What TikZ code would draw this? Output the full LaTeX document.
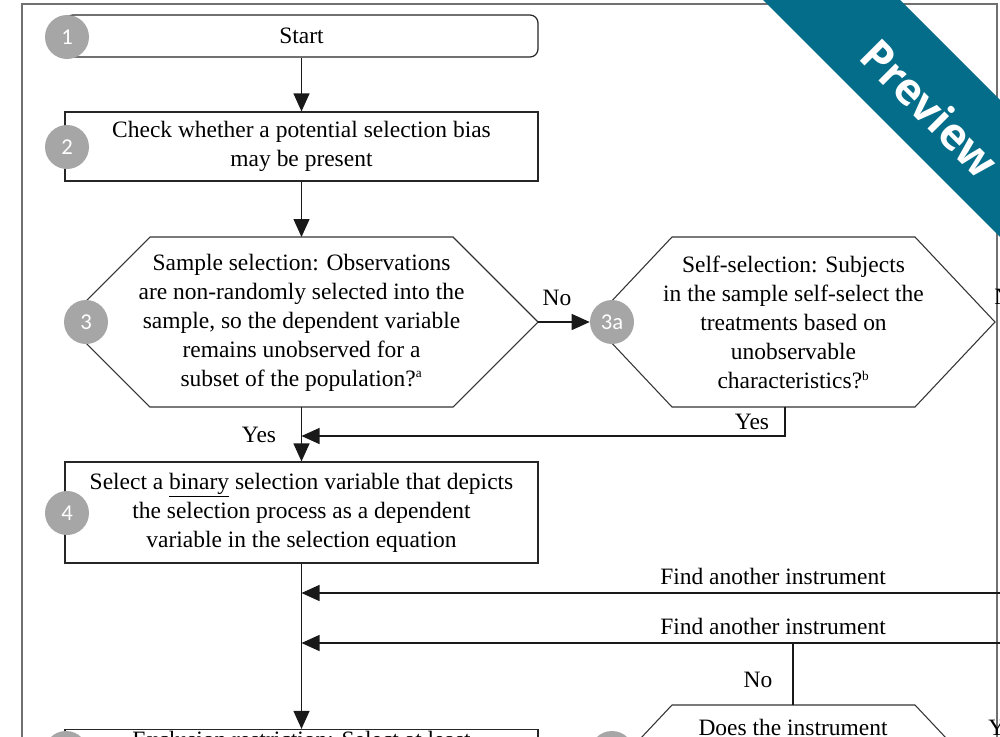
\documentclass[tikz,border=0pt]{standalone}
\usepackage{fontspec}
\setmainfont{Liberation Serif}
\newfontfamily\numfont{Carlito}
\newfontfamily\bannerfont{Open Sans}
\usetikzlibrary{arrows.meta}
\definecolor{numgray}{HTML}{A6A6A6}
\definecolor{framegray}{HTML}{707070}
\definecolor{bannerteal}{HTML}{046E8A}
\tikzset{
  txt/.style={font=\fontsize{17.6}{21.75}\selectfont, align=center, inner sep=0pt},
  box/.style={draw=black!85, line width=0.9pt, minimum width=354.75pt, inner sep=0pt},
  startbox/.style={box, rounded corners=6pt, minimum height=31.5pt},
  hexline/.style={draw=black!80, line width=0.8pt},
  num/.style={circle, fill=numgray, text=white, minimum size=33pt, inner sep=0pt, font=\numfont\fontsize{17}{17}\selectfont},
  flow/.style={draw=black!90, line width=0.9pt},
  arr/.style={flow, -{Triangle[length=13.5pt,width=12pt]}},
  lbl/.style={font=\fontsize{17.6}{20}\selectfont, inner sep=0pt}
}
\begin{document}
\begin{tikzpicture}[x=0.75pt,y=-0.75pt]
\clip (0,0) rectangle (1000,736);
\fill[white] (0,0) rectangle (1000,736);
% frame
\draw[framegray, line width=1.6pt] (22,760) -- (22,4) -- (997,4) -- (997,760);

% step 1
\node[startbox, txt, minimum width=354.75pt, minimum height=31.5pt] (s1) at (301.5,36) {Start};
\node[num] (c1) at (67,37) {1};

% step 2
\node[box, txt, minimum height=51.75pt] (s2) at (301.5,146.5) {Check whether a potential selection bias\\may be present};
\node[num] (c2) at (67,147) {2};

% step 3 hexagon
\coordinate (h3W) at (65,322);
\coordinate (h3E) at (538,322);
\coordinate (h3N) at (301.5,237);
\coordinate (h3S) at (301.5,407);
\draw[hexline] (h3W) -- (150,237) -- (453,237) -- (h3E) -- (453,407) -- (150,407) -- cycle;
\node[txt] (h3) at (301.5,322.5) {Sample selection: Observations\\are non-randomly selected into the\\sample, so the dependent variable\\remains unobserved for a\\subset of the population?\textsuperscript{\fontsize{10}{10}\selectfont a}};
\node[num] (c3) at (86,322) {3};

% step 3a hexagon
\coordinate (h3aW) at (592,322);
\coordinate (h3aE) at (995,322);
\coordinate (h3aS) at (785,407);
\draw[hexline] (h3aW) -- (672,237) -- (915,237) -- (h3aE) -- (915,407) -- (672,407) -- cycle;
\node[txt] (h3a) at (793.5,322.5) {Self-selection: Subjects\\in the sample self-select the\\treatments based on\\unobservable\\characteristics?\textsuperscript{\fontsize{10}{10}\selectfont b}};
\node[num] (c3a) at (612,322) {3a};

% step 4
\node[box, txt, minimum height=75.75pt] (s4) at (301.5,512.5) {Select a \underline{binary} selection variable that depicts\\the selection process as a dependent\\variable in the selection equation};
\node[num] (c4) at (67,513) {4};

% step 5
\node[box, minimum height=75.75pt] (s5) at (301.5,780) {};
\node[txt, anchor=base] (t5) at (301.5,747) {Exclusion restriction: Select at least};
\node[num] (c5) at (66,753) {5};

% step 6 hexagon
\coordinate (h6N) at (793,705);
\draw[hexline] (592,790) -- (672,705) -- (915,705) -- (995,790);
\node[txt, anchor=base] (h6) at (793,735) {Does the instrument};
\node[num] (c6) at (612,753) {6};

% connectors
\draw[arr] (s1.south) -- (s2.north);
\draw[arr] (s2.south) -- (h3N);
\draw[arr] (h3E) -- (c3a.west);
\node[lbl] (no3) at (557,298) {No};
\coordinate (j1) at (301.5,436);
\draw[arr] (h3aS) -- (785,436) -- (j1);
\node[lbl] (yes3a) at (752,422) {Yes};
\draw[arr] (h3S) -- (s4.north);
\node[lbl] (yes3) at (259,435) {Yes};

\coordinate (j2) at (301.5,593);
\coordinate (j3) at (301.5,643);
\coordinate (r2) at (1010,593);
\coordinate (r3) at (1010,643);
\draw[arr] (s4.south) -- (s5.north);
\draw[arr] (r2) -- (j2);
\draw[arr] (r3) -- (j3);
\node[lbl] (f1) at (773,576) {Find another instrument};
\node[lbl] (f2) at (773,626) {Find another instrument};
\coordinate (b3) at (793,643);
\draw[flow] (b3) -- (h6N);
\node[lbl] (no6) at (758,680) {No};

\node[lbl, anchor=west] (no3a) at (994,297) {No};
\node[lbl, anchor=west] (yes6) at (988,728) {Yes};

% banner
\fill[bannerteal] (763,0) -- (900,0) -- (1100,200) -- (1100,337) -- cycle;
\node[rotate=-45, text=white, font=\bannerfont\bfseries\fontsize{33}{33}\selectfont, inner sep=0pt] (pv) at (930,108) {Preview};
\end{tikzpicture}
\end{document}
